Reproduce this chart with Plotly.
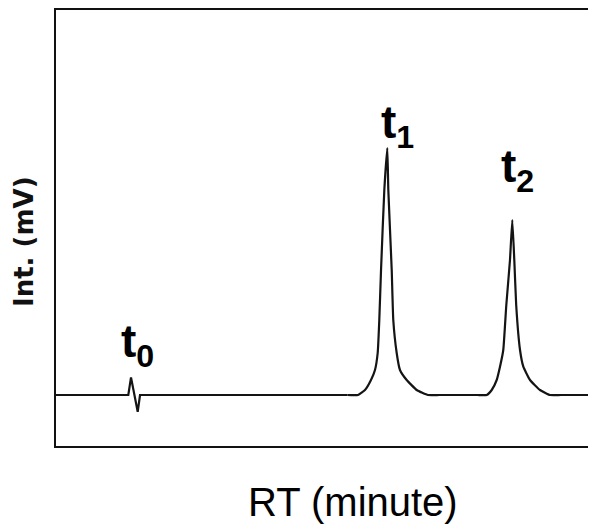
import plotly.graph_objects as go

# Retention time (minutes) and intensity (mV)
t0_rt = [0.0, 1.339, 1.389, 1.513, 1.556, 5.40]
t0_int = [0.0, 0.0, 4.4, -4.2, 0.0, 0.0]

t1_rt = [5.40, 5.593, 5.722, 5.833, 5.907, 5.957, 5.987, 6.019, 6.080, 6.135,
         6.154, 6.217, 6.246, 6.309, 6.370, 6.494, 6.680, 6.889, 7.10]
t1_int = [0.0, 0.0, 1.25, 3.75, 6.25, 10.5, 18.75, 31.25, 51.25, 61.75,
          51.25, 31.25, 18.75, 10.5, 6.25, 3.75, 1.25, 0.0, 0.0]

t2_rt = [7.80, 7.976, 8.069, 8.161, 8.222, 8.283, 8.339, 8.407, 8.450,
         8.487, 8.522, 8.593, 8.654, 8.778, 8.963, 9.148, 9.35, 10.3]
t2_int = [0.0, 0.0, 1.25, 3.75, 7.08, 11.25, 22.5, 33.75, 43.75,
          33.75, 22.5, 11.25, 7.08, 3.75, 1.25, 0.0, 0.0, 0.0]

label_text = ["<b>t<sub>0</sub></b>", "<b>t<sub>1</sub></b>", "<b>t<sub>2</sub></b>"]
label_rt = [1.50, 6.33, 8.54]
label_int = [12.75, 67.5, 56.5]

# page body has an 8px margin, so the figure is offset by 8px
OFF = 8
PLOT_L = 56 - OFF
PLOT_T = 10 - OFF
PLOT_B = 446 - OFF
W, H = 596, 527
plot_w = W - PLOT_L
plot_h = PLOT_B - PLOT_T

line_style = dict(color="#141414", width=2.2)

fig = go.Figure()
# baseline with the t0 disturbance (sharp)
fig.add_trace(go.Scatter(
    x=t0_rt, y=t0_int, mode="lines", line=dict(**line_style, shape="linear"),
    hoverinfo="skip", showlegend=False,
))
# peaks t1 and t2 (smooth), joined by baseline
fig.add_trace(go.Scatter(
    x=t1_rt + t2_rt, y=t1_int + t2_int, mode="lines",
    line=dict(**line_style, shape="spline", smoothing=0.4),
    hoverinfo="skip", showlegend=False,
))

for txt, xv, yv in zip(label_text, label_rt, label_int):
    fig.add_annotation(
        x=xv, y=yv, xref="x", yref="y", text=txt, showarrow=False,
        xanchor="center", yanchor="middle",
        font=dict(family="Liberation Sans", size=46, color="#000000"),
    )

fig.add_annotation(
    x=(352.5 - OFF - PLOT_L) / plot_w, y=(PLOT_B - (502 - OFF)) / plot_h,
    xref="paper", yref="paper",
    text="RT (minute)", showarrow=False, xanchor="center", yanchor="middle",
    font=dict(family="Liberation Sans", size=40, color="#000000"),
)
fig.add_annotation(
    x=(24 - OFF - PLOT_L) / plot_w, y=(PLOT_B - (242 - OFF)) / plot_h,
    xref="paper", yref="paper",
    text="<b>Int. (mV)</b>", showarrow=False, textangle=-90,
    xanchor="center", yanchor="middle",
    font=dict(family="DejaVu Sans", size=26, color="#111111"),
)

fig.update_layout(
    width=W, height=H,
    margin=dict(l=PLOT_L, r=0, t=PLOT_T, b=H - PLOT_B),
    paper_bgcolor="white", plot_bgcolor="white",
    xaxis=dict(range=[0, plot_w / 54.0], showgrid=False, zeroline=False, showticklabels=False,
               ticks="", showline=True, mirror=True, linecolor="#111111", linewidth=2),
    yaxis=dict(range=[-12.75, 96.25], showgrid=False, zeroline=False, showticklabels=False,
               ticks="", showline=True, mirror=False, linecolor="#111111", linewidth=2),
)

fig.write_html("out.html")
